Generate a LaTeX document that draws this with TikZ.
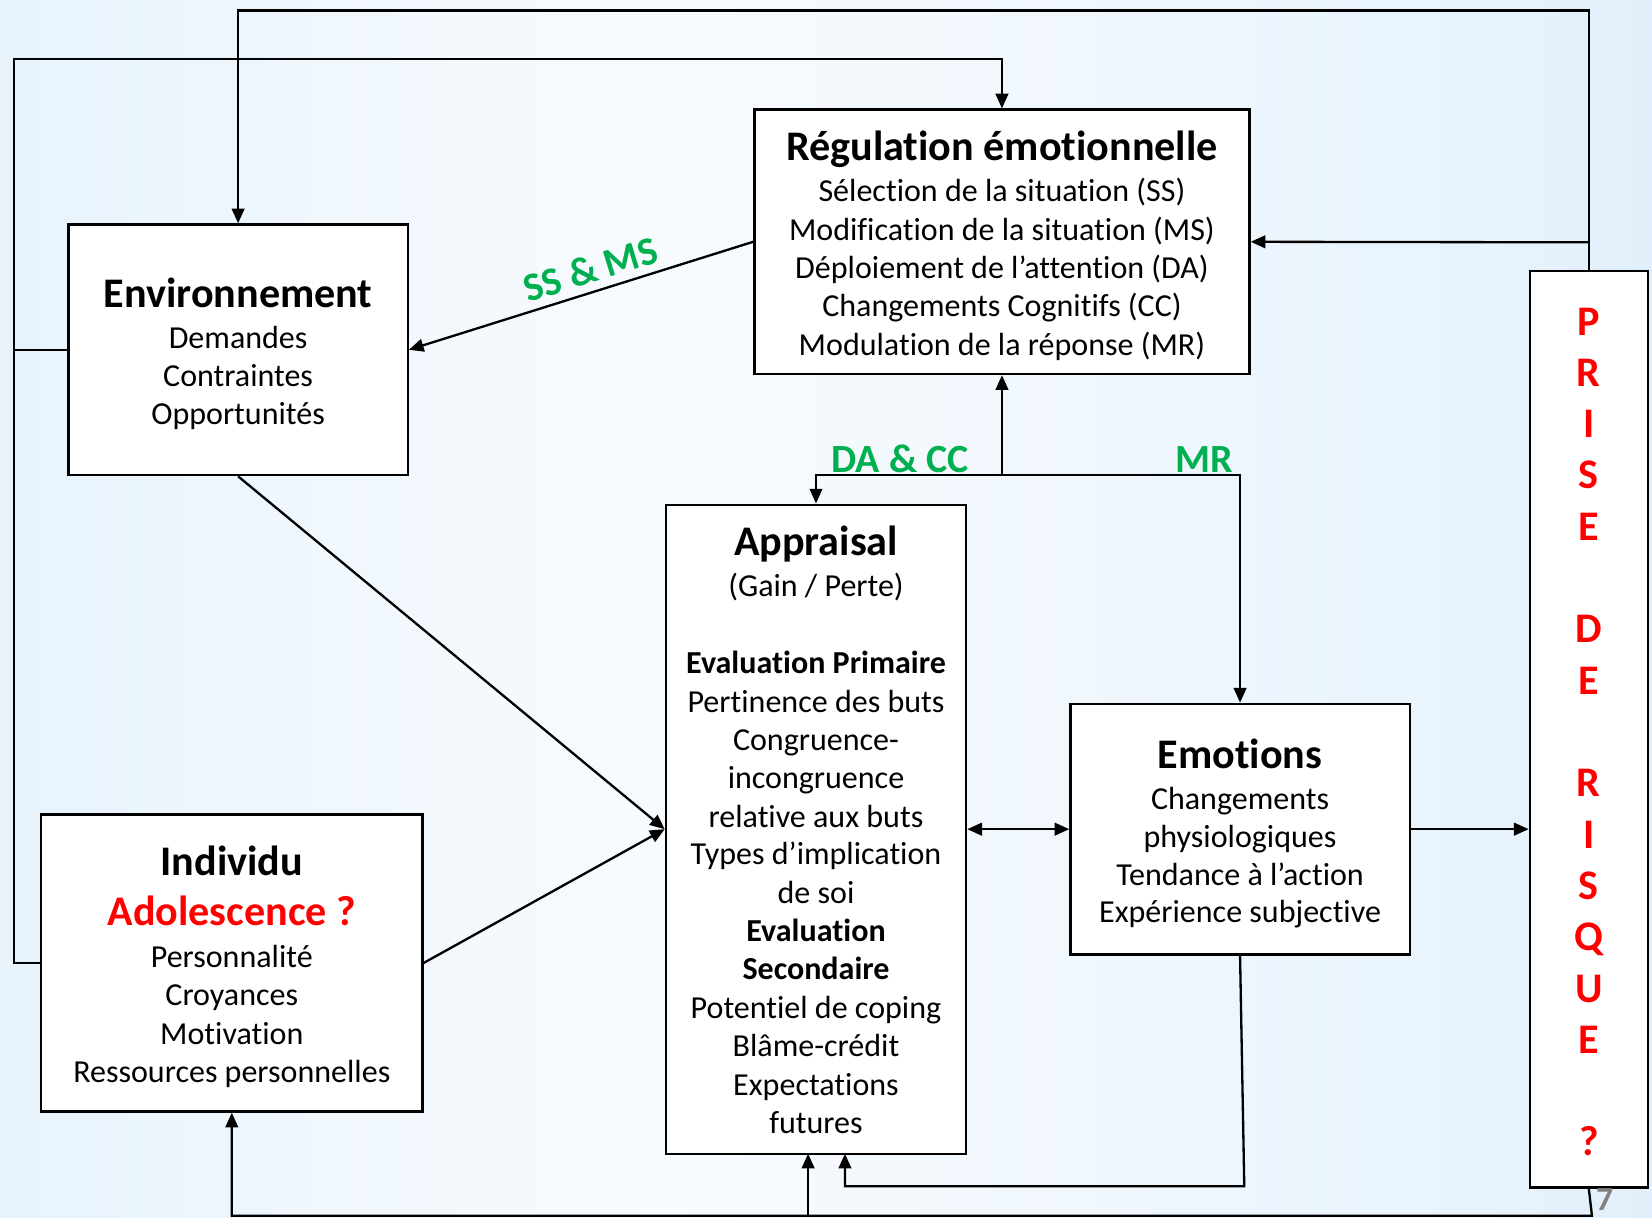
\documentclass[tikz,border=0pt]{standalone}
\usepackage{fontspec}
\setmainfont{Carlito}[Ligatures={NoCommon,NoRare,NoContextual}]
\usetikzlibrary{arrows.meta}
\definecolor{bgA}{HTML}{BFDFF8}
\definecolor{bgB}{HTML}{E0EFFB}
\definecolor{bgC}{HTML}{F8FBFE}
\definecolor{bgD}{HTML}{E8F3FC}
\definecolor{bgE}{HTML}{CCE5F9}
\definecolor{bgF}{HTML}{ADD6F6}
\definecolor{xgreen}{HTML}{00B050}
\definecolor{xred}{HTML}{FF0000}
\definecolor{pggray}{HTML}{808080}
\pgfdeclarehorizontalshading{bgshade}{100bp}{color(0bp)=(bgA); color(15bp)=(bgB); color(45bp)=(bgC); color(70bp)=(bgD); color(88bp)=(bgE); color(100bp)=(bgF)}
\begin{document}
\begin{tikzpicture}[x=0.5pt,y=-0.5pt,
  box/.style={draw, line width=1.1pt, fill=white, inner sep=0pt},
  ln/.style={line width=1.1pt},
  tip/.tip={Triangle[length=7pt,width=6pt]},
  arr/.style={ln, -tip},
  body/.style={font=\fontsize{15.2}{18}\selectfont, anchor=base, inner sep=0pt},
  bbody/.style={font=\fontsize{15.2}{18}\selectfont\bfseries, anchor=base, inner sep=0pt},
  ttl/.style={font=\fontsize{20}{24}\selectfont\bfseries, anchor=base, inner sep=0pt},
  lab/.style={font=\fontsize{19}{22}\selectfont\bfseries, text=xgreen, anchor=base, inner sep=0pt},
  risk/.style={font=\fontsize{20}{24}\selectfont\bfseries, text=xred, anchor=base, inner sep=0pt}]
\useasboundingbox (0,0) rectangle (1568,1156);
\shade[shading=bgshade] (0,0) rectangle (1568,1156);

% boxes
\node[box, minimum width=161pt, minimum height=119pt] (env) at (226,332) {};
\node[box, minimum width=235pt, minimum height=125.5pt] (reg) at (951,229.5) {};
\node[box, minimum width=142.5pt, minimum height=308pt] (app) at (774.5,787) {};
\node[box, minimum width=161pt, minimum height=119pt] (emo) at (1177,787) {};
\node[box, minimum width=181pt, minimum height=141pt] (ind) at (220,914) {};
\node[box, minimum width=56pt, minimum height=435pt] (risk) at (1508,692) {};

% Environnement
\node[ttl] (envT) at (226,292) {Environnement};
\foreach \n/\y/\t in {1/331/Demandes, 2/367/Contraintes, 3/403/Opportunités}
  \node[body] (env\n) at (226,\y) {\t};

% Regulation
\node[ttl] (regT) at (951,152) {Régulation émotionnelle};
\foreach \n/\y/\t in {1/191/Sélection de la situation (SS), 2/228/Modification de la situation (MS), 3/264/Déploiement de l’attention (DA), 4/300/Changements Cognitifs (CC), 5/337/Modulation de la réponse (MR)}
  \node[body] (reg\n) at (951,\y) {\t};

% Appraisal
\node[ttl] (appT) at (774.5,527) {Appraisal};
\foreach \n/\y/\t in {1/566/{(Gain / Perte)}, 3/676/Pertinence des buts, 4/712/Congruence-, 5/748/incongruence, 6/785/relative aux buts, 7/821/Types d’implication, 8/858/de soi, 11/967/Potentiel de coping, 12/1003/Blâme-crédit, 13/1040/Expectations, 14/1076/futures}
  \node[body] (app\n) at (774.5,\y) {\t};
\foreach \n/\y/\t in {2/639/Evaluation Primaire, 9/894/Evaluation, 10/930/Secondaire}
  \node[bbody] (app\n) at (774.5,\y) {\t};

% Emotions
\node[ttl] (emoT) at (1177,729) {Emotions};
\foreach \n/\y/\t in {1/768/Changements, 2/804/physiologiques, 3/840/Tendance à l’action, 4/876/Expérience subjective}
  \node[body] (emo\n) at (1177,\y) {\t};

% Individu
\node[ttl] (indT) at (220,831) {Individu};
\node[ttl, text=xred] (indA) at (220,878) {Adolescence ?};
\foreach \n/\y/\t in {1/918/Personnalité, 2/954/Croyances, 3/991/Motivation, 4/1027/Ressources personnelles}
  \node[body] (ind\n) at (220,\y) {\t};

% Prise de risque
\foreach \c/\i in {P/0,R/1,I/2,S/3,E/4,D/6,E/7,R/9,I/10,S/11,Q/12,U/13,E/14,?/16}
  \node[risk] (r\i) at (1508,318+48.7*\i) {\c};

% connectors
\coordinate (tr) at (1508,10);
\coordinate (br) at (1508,230);
\coordinate (tl) at (13,56);
\coordinate (j) at (951,451);
\coordinate (eb) at (1181,1126);
\coordinate (ab2) at (802,1095);
\coordinate (ab1) at (767,1095);
\coordinate (rb) at (1511,1154);
\coordinate (bb) at (767,1154);

\draw[arr] (risk.north) -- (tr) -| (env.north);
\draw[arr] (br) -- (reg.east);
\draw[arr] (ind.west) -| (tl) -| (reg.north);
\draw[ln] (env.west) -- (env.west -| tl);
\draw[arr] (reg.west) -- (env.east);
\node[lab, rotate=17.1] (ssms) at (564,268) {SS \& MS};
\draw[arr] (env.south) -- (app.west);
\draw[arr] (ind.east) -- (app.west);
\draw[ln, tip-tip] (app.east) -- (emo.west);
\draw[arr] (emo.east) -- (emo.east -| risk.west);
\draw[arr] (j) -- (reg.south);
\draw[arr] (j) -| (app.north);
\draw[arr] (j) -| (emo.north);
\node[lab] (dacc) at (854.5,448) {DA \& CC};
\node[lab] (mr) at (1143,448) {MR};
\draw[arr] (emo.south) -- (eb) -| (ab2);
\draw[arr] (risk.south) -- (rb) -| (ind.south);
\draw[arr] (bb) -- (ab1);

\node[font=\fontsize{16}{19}\selectfont\bfseries, text=pggray, anchor=base, inner sep=0pt] (pg) at (1523,1149) {7};
\end{tikzpicture}
\end{document}
